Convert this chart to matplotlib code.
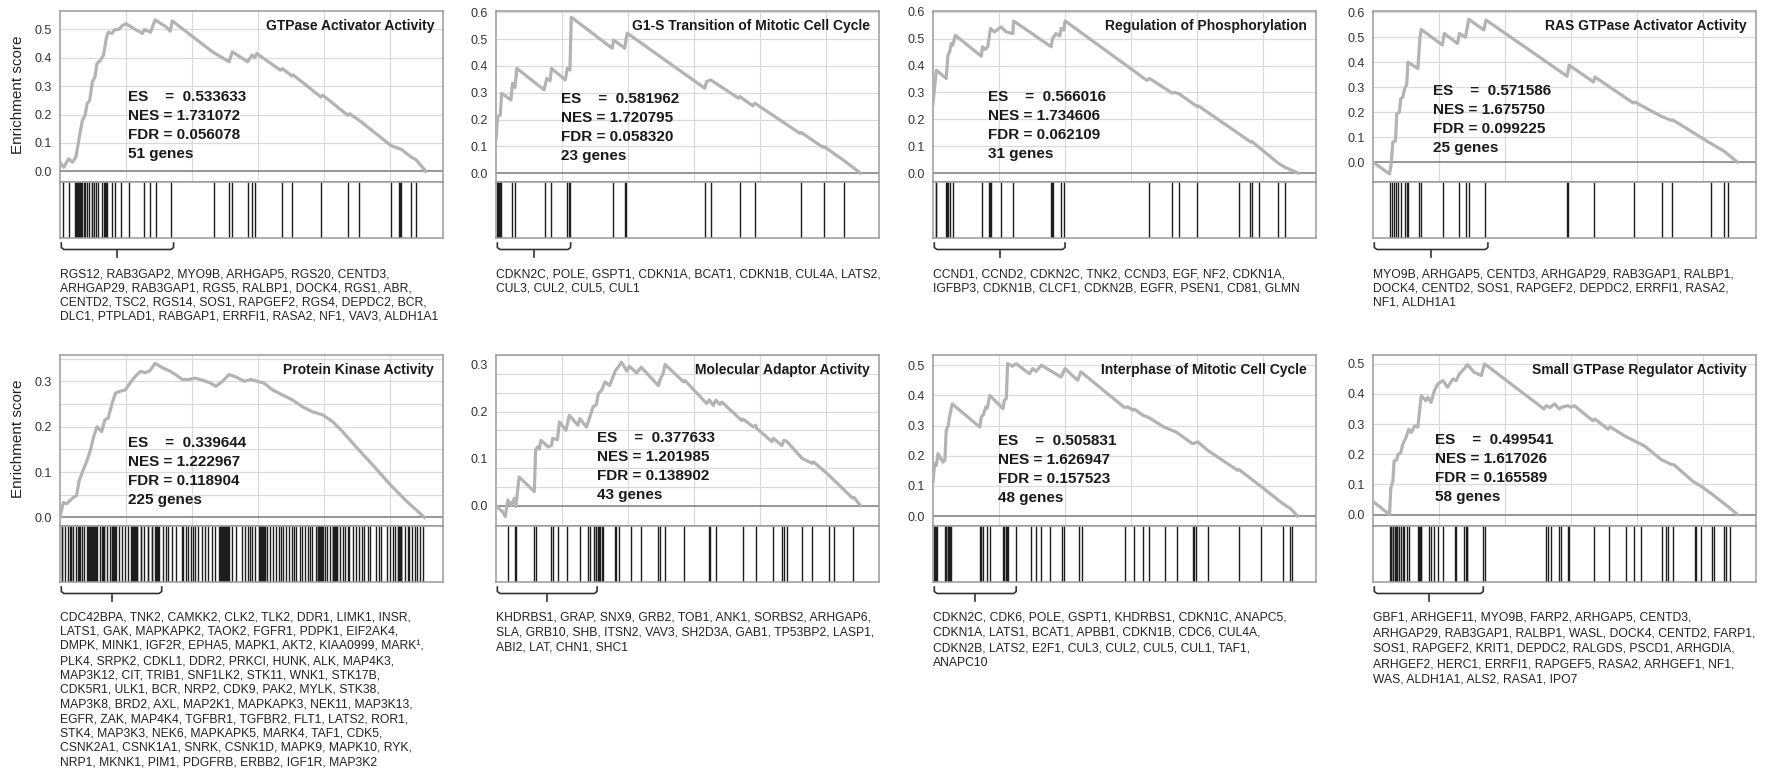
import numpy as np
import matplotlib
matplotlib.use("Agg")
import matplotlib.pyplot as plt
from matplotlib.transforms import blended_transform_factory

plt.rcParams['font.family'] = ['Liberation Sans', 'DejaVu Sans']

# ------------------------------------------------------------------
# Gene-set enrichment results (running enrichment score, hit ranks,
# summary statistics and leading-edge genes) for eight gene sets.
# Rank positions are in units of 2000 genes of the ordered list.
# ------------------------------------------------------------------
titles = [
    "GTPase Activator Activity",
    "G1-S Transition of Mitotic Cell Cycle",
    "Regulation of Phosphorylation",
    "RAS GTPase Activator Activity",
    "Protein Kinase Activity",
    "Molecular Adaptor Activity",
    "Interphase of Mitotic Cell Cycle",
    "Small GTPase Regulator Activity",
]
es_values = [0.533633, 0.581962, 0.566016, 0.571586, 0.339644, 0.377633, 0.505831, 0.499541]
nes_values = [1.731072, 1.720795, 1.734606, 1.675750, 1.222967, 1.201985, 1.626947, 1.617026]
fdr_values = [0.056078, 0.058320, 0.062109, 0.099225, 0.118904, 0.138902, 0.157523, 0.165589]

gtpase_curve = [
    (0.00, 0.032), (0.056, 0.014), (0.13, 0.044), (0.19, 0.032), (0.24, 0.050), (0.27, 0.090),
    (0.31, 0.144), (0.34, 0.180), (0.38, 0.197), (0.41, 0.238), (0.45, 0.250), (0.49, 0.315),
    (0.53, 0.333), (0.56, 0.380), (0.61, 0.390), (0.66, 0.410), (0.70, 0.468), (0.73, 0.490),
    (0.79, 0.486), (0.83, 0.500), (0.89, 0.500), (0.94, 0.513), (1.00, 0.520), (1.14, 0.500),
    (1.25, 0.486), (1.28, 0.500), (1.37, 0.490), (1.44, 0.533633), (1.60, 0.510), (1.67, 0.494),
    (1.70, 0.530), (2.31, 0.421), (2.56, 0.386), (2.61, 0.421), (2.84, 0.386), (2.91, 0.410),
    (2.95, 0.400), (2.98, 0.415), (3.34, 0.356), (3.37, 0.362), (3.51, 0.336), (3.53, 0.340),
    (3.95, 0.262), (3.98, 0.268), (4.36, 0.197), (4.38, 0.203), (4.53, 0.180), (5.01, 0.091),
    (5.17, 0.077), (5.32, 0.050), (5.39, 0.041), (5.54, 0.000),
]
gtpase_hits = [
    0.04, 0.14, 0.23, 0.24, 0.26, 0.27, 0.28, 0.29, 0.31, 0.32, 0.33, 0.36, 0.38, 0.41, 0.44,
    0.48, 0.49, 0.51, 0.55, 0.58, 0.64, 0.66, 0.68, 0.69, 0.70, 0.71, 0.78, 0.84, 0.92, 1.04,
    1.27, 1.37, 1.45, 1.68, 2.33, 2.56, 2.61, 2.84, 2.91, 2.95, 3.36, 3.52, 3.95, 4.36, 4.53,
    5.01, 5.14, 5.15, 5.17, 5.32, 5.39,
]

g1s_curve = [
    (0.00, 0.124), (0.025, 0.211), (0.065, 0.217), (0.085, 0.298), (0.226, 0.273), (0.25, 0.335),
    (0.286, 0.320), (0.316, 0.391), (0.728, 0.311), (0.77, 0.354), (0.82, 0.345), (0.84, 0.391),
    (1.05, 0.348), (1.08, 0.391), (1.12, 0.385), (1.14, 0.581962), (1.76, 0.466), (1.78, 0.497),
    (1.95, 0.466), (1.97, 0.503), (1.99, 0.522), (3.16, 0.317), (3.19, 0.342), (3.25, 0.348),
    (3.67, 0.280), (3.69, 0.286), (3.89, 0.251), (3.92, 0.261), (4.60, 0.149), (4.62, 0.152),
    (4.95, 0.097), (4.97, 0.099), (5.27, 0.047), (5.52, 0.000),
]
g1s_hits = [
    0.01, 0.025, 0.035, 0.05, 0.065, 0.08, 0.24, 0.286, 0.743, 0.83, 1.07, 1.10, 1.12, 1.77,
    1.95, 1.97, 3.17, 3.26, 3.69, 3.92, 4.62, 4.96, 5.27,
]

phos_curve = [
    (0.00, 0.258), (0.05, 0.383), (0.20, 0.352), (0.226, 0.439), (0.25, 0.450), (0.277, 0.482),
    (0.30, 0.475), (0.337, 0.513), (0.73, 0.435), (0.75, 0.470), (0.79, 0.460), (0.83, 0.470),
    (0.87, 0.538), (0.93, 0.525), (1.03, 0.544), (1.11, 0.525), (1.21, 0.519), (1.22, 0.566016),
    (1.79, 0.470), (1.81, 0.500), (1.86, 0.519), (1.92, 0.510), (1.94, 0.538), (1.98, 0.532),
    (2.00, 0.566), (3.24, 0.345), (3.28, 0.352), (3.62, 0.298), (3.65, 0.300), (3.72, 0.296),
    (4.00, 0.248), (4.02, 0.250), (4.63, 0.147), (4.81, 0.116), (4.83, 0.118), (4.93, 0.097),
    (5.23, 0.037), (5.33, 0.022), (5.53, 0.000),
]
phos_hits = [
    0.04, 0.05, 0.20, 0.21, 0.216, 0.23, 0.25, 0.31, 0.74, 0.855, 0.865, 0.87, 0.885, 1.03,
    1.21, 1.79, 1.80, 1.805, 1.82, 1.94, 1.99, 3.27, 3.62, 3.72, 4.00, 4.63, 4.80, 4.83, 4.93,
    5.23, 5.33,
]

ras_curve = [
    (0.00, 0.000), (0.25, -0.047), (0.276, -0.007), (0.30, 0.080), (0.34, 0.085), (0.36, 0.194),
    (0.40, 0.200), (0.42, 0.254), (0.45, 0.260), (0.48, 0.295), (0.51, 0.310), (0.53, 0.400),
    (0.68, 0.375), (0.71, 0.495), (0.73, 0.531), (1.05, 0.469), (1.08, 0.515), (1.28, 0.475),
    (1.31, 0.515), (1.40, 0.500), (1.45, 0.571586), (1.68, 0.529), (1.71, 0.569), (2.94, 0.344),
    (2.97, 0.388), (3.34, 0.321), (3.36, 0.341), (3.94, 0.237), (3.97, 0.240), (4.34, 0.187),
    (4.37, 0.183), (4.52, 0.167), (4.54, 0.169), (5.12, 0.074), (5.31, 0.045), (5.52, 0.000),
]
ras_hits = [
    0.26, 0.29, 0.32, 0.35, 0.38, 0.42, 0.48, 0.51, 0.53, 0.69, 0.72, 1.06, 1.30, 1.41, 1.46,
    1.69, 2.94, 2.96, 3.35, 3.96, 4.37, 4.53, 5.12, 5.31, 5.38,
]

kinase_curve = [
    (0.00, 0.000), (0.05, 0.033), (0.10, 0.030), (0.15, 0.037), (0.20, 0.044), (0.25, 0.048),
    (0.29, 0.081), (0.35, 0.104), (0.41, 0.126), (0.46, 0.148), (0.51, 0.178), (0.56, 0.200),
    (0.63, 0.189), (0.68, 0.215), (0.73, 0.219), (0.79, 0.252), (0.84, 0.274), (0.91, 0.278),
    (0.99, 0.281), (1.06, 0.296), (1.14, 0.311), (1.22, 0.322), (1.29, 0.319), (1.36, 0.323),
    (1.44, 0.339644), (1.55, 0.330), (1.67, 0.322), (1.75, 0.315), (1.85, 0.304), (1.95, 0.304),
    (2.05, 0.307), (2.15, 0.303), (2.28, 0.296), (2.36, 0.289), (2.46, 0.300), (2.56, 0.315),
    (2.66, 0.310), (2.79, 0.300), (2.89, 0.304), (2.99, 0.300), (3.09, 0.296), (3.22, 0.281),
    (3.37, 0.270), (3.52, 0.259), (3.67, 0.244), (3.82, 0.233), (3.98, 0.226), (4.13, 0.211),
    (4.28, 0.189), (4.48, 0.156), (4.74, 0.115), (4.99, 0.074), (5.24, 0.037), (5.52, 0.000),
]
kinase_hits = [
    # leading edge
    0.03, 0.035, 0.08, 0.12, 0.15, 0.16, 0.17, 0.20, 0.24, 0.28, 0.29, 0.30, 0.33, 0.37, 0.41,
    0.43, 0.435, 0.44, 0.445, 0.45, 0.455, 0.46, 0.47, 0.48, 0.49, 0.50, 0.51, 0.52, 0.53, 0.54,
    0.55, 0.56, 0.61, 0.64, 0.65, 0.66, 0.67, 0.71, 0.76,
    0.79, 0.795, 0.80, 0.805, 0.81, 0.815, 0.82, 0.825, 0.83, 0.835, 0.84, 0.85,
    0.90, 0.94, 0.99, 1.03,
    1.08, 1.085, 1.09, 1.095, 1.10, 1.105, 1.11, 1.115, 1.12, 1.13, 1.14, 1.15, 1.16, 1.17,
    1.22, 1.23, 1.27, 1.33, 1.34, 1.39, 1.40, 1.44, 1.45, 1.46, 1.47, 1.48, 1.50,
    # remainder of the list
    1.56, 1.60, 1.64, 1.70, 1.75, 1.84, 1.87, 1.91, 1.94, 1.98, 2.01, 2.05, 2.09, 2.15, 2.20,
    2.24, 2.30, 2.35, 2.41,
    2.43, 2.44, 2.45, 2.46, 2.47, 2.48, 2.49, 2.50, 2.505, 2.51, 2.515, 2.52, 2.53, 2.535, 2.54,
    2.545, 2.55, 2.56,
    2.61, 2.66, 2.76, 2.80, 2.84, 2.87, 2.91, 2.95,
    3.01, 3.02, 3.025, 3.03, 3.04, 3.045, 3.05, 3.06, 3.065, 3.07, 3.08, 3.09, 3.10, 3.11,
    3.14, 3.18, 3.23, 3.27, 3.31, 3.34, 3.37, 3.42, 3.47, 3.51, 3.55, 3.58, 3.63, 3.67, 3.71,
    3.75, 3.78, 3.82, 3.87,
    3.90, 3.905, 3.91, 3.915, 3.92, 3.93, 3.935, 3.94, 3.95, 3.96, 3.97, 3.98,
    4.02, 4.05, 4.09,
    4.13, 4.135, 4.14, 4.145, 4.15, 4.155, 4.16, 4.17, 4.175, 4.18, 4.19, 4.20,
    4.24, 4.28, 4.32, 4.36, 4.38, 4.43, 4.48, 4.53, 4.57, 4.61, 4.66, 4.69, 4.79, 4.83, 4.86,
    4.95, 4.99, 5.04, 5.08,
    5.12, 5.125, 5.13, 5.135, 5.14, 5.145, 5.15, 5.155, 5.16, 5.165, 5.17,
    5.22, 5.27, 5.29, 5.33, 5.37, 5.41, 5.45, 5.49,
]

adaptor_curve = [
    (0.00, 0.000), (0.10, -0.013), (0.14, -0.023), (0.18, 0.012), (0.23, 0.001), (0.28, 0.016),
    (0.30, -0.002), (0.35, 0.061), (0.58, 0.030), (0.60, 0.118), (0.63, 0.125), (0.655, 0.120),
    (0.68, 0.139), (0.79, 0.125), (0.84, 0.128), (0.86, 0.143), (0.93, 0.140), (0.96, 0.178),
    (1.06, 0.160), (1.11, 0.192), (1.24, 0.171), (1.27, 0.185), (1.37, 0.167), (1.42, 0.188),
    (1.47, 0.210), (1.52, 0.215), (1.55, 0.238), (1.60, 0.245), (1.65, 0.263), (1.72, 0.255),
    (1.81, 0.287), (1.86, 0.296), (1.90, 0.305), (1.98, 0.286), (2.02, 0.296), (2.13, 0.282),
    (2.20, 0.294), (2.46, 0.255), (2.49, 0.270), (2.53, 0.280), (2.56, 0.300), (2.84, 0.263),
    (2.86, 0.266), (3.19, 0.217), (3.23, 0.225), (3.29, 0.213), (3.33, 0.224), (3.39, 0.215),
    (3.42, 0.220), (3.72, 0.181), (3.74, 0.184), (3.90, 0.167), (3.93, 0.171), (3.95, 0.164),
    (4.18, 0.136), (4.20, 0.143), (4.33, 0.128), (4.36, 0.139), (4.40, 0.137), (4.64, 0.100),
    (4.79, 0.090), (4.81, 0.093), (5.04, 0.065), (5.40, 0.016), (5.42, 0.018), (5.52, 0.000),
]
adaptor_hits = [
    0.18, 0.29, 0.31, 0.58, 0.61, 0.84, 0.86, 0.94, 1.07, 1.27, 1.39, 1.42, 1.49, 1.51, 1.52,
    1.55, 1.56, 1.57, 1.60, 1.62, 1.80, 1.82, 1.87, 2.05, 2.20, 2.46, 2.48, 2.56, 2.85, 3.22,
    3.24, 3.33, 3.74, 3.93, 4.19, 4.33, 4.36, 4.40, 4.64, 4.79, 5.04, 5.12, 5.41,
]

interphase_curve = [
    (0.00, 0.113), (0.025, 0.174), (0.05, 0.168), (0.076, 0.207), (0.15, 0.179), (0.18, 0.185),
    (0.20, 0.284), (0.23, 0.300), (0.25, 0.329), (0.29, 0.372), (0.71, 0.295), (0.73, 0.329),
    (0.76, 0.335), (0.80, 0.362), (0.82, 0.357), (0.86, 0.400), (1.06, 0.356), (1.08, 0.384),
    (1.11, 0.390), (1.13, 0.505831), (1.20, 0.497), (1.26, 0.505), (1.46, 0.472), (1.51, 0.489),
    (1.56, 0.480), (1.64, 0.500), (1.77, 0.483), (1.94, 0.461), (2.00, 0.489), (2.19, 0.450),
    (2.24, 0.478), (2.90, 0.360), (2.95, 0.362), (3.03, 0.351), (3.05, 0.355), (3.18, 0.334),
    (3.25, 0.329), (3.50, 0.295), (3.68, 0.279), (3.93, 0.240), (4.01, 0.246), (4.16, 0.218),
    (4.61, 0.152), (4.63, 0.155), (4.97, 0.098), (5.30, 0.041), (5.42, 0.024), (5.52, 0.000),
]
interphase_hits = [
    0.01, 0.025, 0.04, 0.06, 0.18, 0.19, 0.20, 0.22, 0.23, 0.24, 0.26, 0.28, 0.71, 0.72, 0.73,
    0.75, 0.82, 0.86, 1.06, 1.08, 1.10, 1.11, 1.12, 1.13, 1.25, 1.49, 1.56, 1.64, 1.77, 1.96,
    1.98, 2.21, 2.26, 2.90, 3.04, 3.18, 3.27, 3.52, 3.69, 3.93, 3.96, 3.98, 4.16, 4.63, 4.97,
    5.30, 5.41, 5.44,
]

small_gtpase_curve = [
    (0.00, 0.044), (0.25, 0.000), (0.27, 0.089), (0.30, 0.110), (0.32, 0.178), (0.36, 0.182),
    (0.38, 0.200), (0.42, 0.205), (0.45, 0.233), (0.50, 0.256), (0.54, 0.283), (0.58, 0.272),
    (0.63, 0.294), (0.68, 0.290), (0.70, 0.333), (0.73, 0.394), (0.80, 0.378), (0.83, 0.389),
    (0.88, 0.372), (0.93, 0.411), (0.98, 0.433), (1.06, 0.444), (1.13, 0.422), (1.21, 0.450),
    (1.26, 0.444), (1.31, 0.467), (1.38, 0.483), (1.43, 0.497), (1.53, 0.472), (1.64, 0.461),
    (1.69, 0.499541), (2.59, 0.350), (2.62, 0.361), (2.68, 0.355), (2.75, 0.367), (2.82, 0.350),
    (2.86, 0.356), (2.95, 0.361), (3.00, 0.356), (3.05, 0.361), (3.33, 0.311), (3.36, 0.317),
    (3.56, 0.283), (3.59, 0.291), (3.81, 0.261), (3.96, 0.244), (4.11, 0.228), (4.36, 0.183),
    (4.51, 0.167), (4.56, 0.165), (4.84, 0.111), (4.97, 0.094), (5.14, 0.067), (5.37, 0.028),
    (5.52, 0.000),
]
small_gtpase_hits = [
    0.26, 0.27, 0.28, 0.30, 0.31, 0.33, 0.35, 0.36, 0.37, 0.40, 0.42, 0.45, 0.47, 0.51, 0.54,
    0.68, 0.69, 0.70, 0.71, 0.72, 0.73, 0.85, 0.88, 0.93, 0.98, 1.06, 1.24, 1.26, 1.38, 1.41,
    1.42, 1.43, 1.66, 1.69, 2.62, 2.65, 2.70, 2.82, 2.85, 2.95, 2.97, 3.35, 3.58, 3.83, 3.96,
    4.06, 4.37, 4.44, 4.46, 4.54, 4.87, 4.89, 4.97, 5.14, 5.17, 5.32, 5.35, 5.40,
]

# end of the leading edge (rank position) for each set
leading_edge_end = [1.72, 1.13, 2.00, 1.74, 1.54, 1.53, 1.26, 1.67]

leading_edge_genes = [
    ["RGS12, RAB3GAP2, MYO9B, ARHGAP5, RGS20, CENTD3,",
     "ARHGAP29, RAB3GAP1, RGS5, RALBP1, DOCK4, RGS1, ABR,",
     "CENTD2, TSC2, RGS14, SOS1, RAPGEF2, RGS4, DEPDC2, BCR,",
     "DLC1, PTPLAD1, RABGAP1, ERRFI1, RASA2, NF1, VAV3, ALDH1A1"],
    ["CDKN2C, POLE, GSPT1, CDKN1A, BCAT1, CDKN1B, CUL4A, LATS2,",
     "CUL3, CUL2, CUL5, CUL1"],
    ["CCND1, CCND2, CDKN2C, TNK2, CCND3, EGF, NF2, CDKN1A,",
     "IGFBP3, CDKN1B, CLCF1, CDKN2B, EGFR, PSEN1, CD81, GLMN"],
    ["MYO9B, ARHGAP5, CENTD3, ARHGAP29, RAB3GAP1, RALBP1,",
     "DOCK4, CENTD2, SOS1, RAPGEF2, DEPDC2, ERRFI1, RASA2,",
     "NF1, ALDH1A1"],
    ["CDC42BPA, TNK2, CAMKK2, CLK2, TLK2, DDR1, LIMK1, INSR,",
     "LATS1, GAK, MAPKAPK2, TAOK2, FGFR1, PDPK1, EIF2AK4,",
     "DMPK, MINK1, IGF2R, EPHA5, MAPK1, AKT2, KIAA0999, MARK\u00b9,",
     "PLK4, SRPK2, CDKL1, DDR2, PRKCI, HUNK, ALK, MAP4K3,",
     "MAP3K12, CIT, TRIB1, SNF1LK2, STK11, WNK1, STK17B,",
     "CDK5R1, ULK1, BCR, NRP2, CDK9, PAK2, MYLK, STK38,",
     "MAP3K8, BRD2, AXL, MAP2K1, MAPKAPK3, NEK11, MAP3K13,",
     "EGFR, ZAK, MAP4K4, TGFBR1, TGFBR2, FLT1, LATS2, ROR1,",
     "STK4, MAP3K3, NEK6, MAPKAPK5, MARK4, TAF1, CDK5,",
     "CSNK2A1, CSNK1A1, SNRK, CSNK1D, MAPK9, MAPK10, RYK,",
     "NRP1, MKNK1, PIM1, PDGFRB, ERBB2, IGF1R, MAP3K2"],
    ["KHDRBS1, GRAP, SNX9, GRB2, TOB1, ANK1, SORBS2, ARHGAP6,",
     "SLA, GRB10, SHB, ITSN2, VAV3, SH2D3A, GAB1, TP53BP2, LASP1,",
     "ABI2, LAT, CHN1, SHC1"],
    ["CDKN2C, CDK6, POLE, GSPT1, KHDRBS1, CDKN1C, ANAPC5,",
     "CDKN1A, LATS1, BCAT1, APBB1, CDKN1B, CDC6, CUL4A,",
     "CDKN2B, LATS2, E2F1, CUL3, CUL2, CUL5, CUL1, TAF1,",
     "ANAPC10"],
    ["GBF1, ARHGEF11, MYO9B, FARP2, ARHGAP5, CENTD3,",
     "ARHGAP29, RAB3GAP1, RALBP1, WASL, DOCK4, CENTD2, FARP1,",
     "SOS1, RAPGEF2, KRIT1, DEPDC2, RALGDS, PSCD1, ARHGDIA,",
     "ARHGEF2, HERC1, ERRFI1, RAPGEF5, RASA2, ARHGEF1, NF1,",
     "WAS, ALDH1A1, ALS2, RASA1, IPO7"],
]

curves = [gtpase_curve, g1s_curve, phos_curve, ras_curve,
          kinase_curve, adaptor_curve, interphase_curve, small_gtpase_curve]
hits = [gtpase_hits, g1s_hits, phos_hits, ras_hits,
        kinase_hits, adaptor_hits, interphase_hits, small_gtpase_hits]

# ------------------------------------------------------------------
# Layout / style
# ------------------------------------------------------------------
W, H = 1771, 773
fig = plt.figure(figsize=(W / 100, H / 100), dpi=100)

X_MAX = 5.8
col_left = [60, 496, 933, 1373]
col_width = 383
row_top = [11, 355]
es_height = 170.5
hit_height = 56.5

y_limits = [(-0.036, 0.565), (-0.031, 0.605), (-0.031, 0.603), (-0.0775, 0.605),
            (-0.0177, 0.358), (-0.042, 0.32), (-0.031, 0.534), (-0.036, 0.529)]
y_tick_max = [0.5, 0.6, 0.6, 0.6, 0.3, 0.3, 0.5, 0.5]
grid_step = [0.1, 0.1, 0.1, 0.1, 0.05, 0.04, 0.1, 0.1]
stats_x = [0.178, 0.171, 0.143, 0.156, 0.178, 0.264, 0.171, 0.161]
stats_top = [86.3, 88.3, 85.7, 79.7, 87.7, 82.7, 86.0, 85.0]
gene_line_gap = [14.2, 14.3, 14.3, 14.2, 14.5, 15.0, 15.3, 15.6]
gene_first_line = [274.3, 617.5]

FRAME = "#9a9a9a"
GRID = "#dadada"
ZERO = "#7a7a7a"
CURVE = "#b3b3b3"
TEXT = "#1a1a1a"


def fy(ypx):
    return 1 - ypx / H


def add_px_axes(left, top, width, height):
    return fig.add_axes([left / W, 1 - (top + height) / H, width / W, height / H])


for i in range(8):
    row, col = divmod(i, 4)
    left = col_left[col]
    top = row_top[row]

    ax = add_px_axes(left, top, col_width, es_height)
    axh = add_px_axes(left, top + es_height, col_width, hit_height)

    # --- running enrichment score panel ---
    ymin, ymax = y_limits[i]
    ax.set_xlim(0, X_MAX)
    ax.set_ylim(ymin, ymax)
    for g in np.arange(1, 6):
        ax.axvline(g, color=GRID, lw=0.9, zorder=0)
    for gy in np.arange(grid_step[i], ymax, grid_step[i]):
        ax.axhline(gy, color=GRID, lw=0.9, zorder=0)
    ax.axhline(0, color=ZERO, lw=1.1, zorder=1)

    cx = [p[0] for p in curves[i]]
    cy = [p[1] for p in curves[i]]
    ax.plot(cx, cy, color=CURVE, lw=2.3, solid_joinstyle="round", zorder=3)

    ticks = np.round(np.arange(0, y_tick_max[i] + 1e-9, 0.1), 1)
    ax.set_yticks(ticks)
    ax.set_yticklabels([f"{t:.1f}" for t in ticks])
    ax.tick_params(axis="y", length=0, pad=6, labelsize=9, labelcolor="#333333")
    ax.set_xticks([])
    for s in ax.spines.values():
        s.set_color(FRAME)
        s.set_linewidth(1.1)

    ax.text(1 - 9 / col_width, 1 - 15 / es_height, titles[i], transform=ax.transAxes,
            ha="right", va="center", fontsize=10, fontweight="bold", color=TEXT)

    stats = [f"ES    =  {es_values[i]:.6f}",
             f"NES = {nes_values[i]:.6f}",
             f"FDR = {fdr_values[i]:.6f}",
             f"{len(hits[i])} genes"]
    for k, line in enumerate(stats):
        ax.text(stats_x[i], 1 - (stats_top[i] + 19 * k) / es_height, line,
                transform=ax.transAxes, ha="left", va="center",
                fontsize=11, fontweight="bold", color=TEXT)

    # --- hit positions ---
    axh.set_xlim(0, X_MAX)
    axh.set_ylim(0, 1)
    axh.vlines(hits[i], 0, 1, color="#1e1e1e", lw=1.0)
    axh.set_xticks([])
    axh.set_yticks([])
    for s in axh.spines.values():
        s.set_color(FRAME)
        s.set_linewidth(1.1)

    # --- leading-edge brace under the hit strip ---
    strip_bottom = top + es_height + hit_height
    tr = blended_transform_factory(axh.transData, fig.transFigure)
    x0, x1 = 0.02, leading_edge_end[i]
    xm = (x0 + x1) / 2
    dx = 0.04
    y_end = fy(strip_bottom + 5)
    y_bar = fy(strip_bottom + 11.5)
    y_tip = fy(strip_bottom + 19)
    axh.plot([x0, x0, x0 + dx, x1 - dx, x1, x1],
             [y_end, fy(strip_bottom + 9.5), y_bar, y_bar, fy(strip_bottom + 9.5), y_end],
             transform=tr, clip_on=False, color="#333333", lw=1.2)
    axh.plot([xm, xm], [y_bar, y_tip], transform=tr, clip_on=False,
             color="#333333", lw=1.2)

    # --- leading-edge gene list ---
    for k, line in enumerate(leading_edge_genes[i]):
        fig.text(left / W, fy(gene_first_line[row] + gene_line_gap[i] * k), line,
                 ha="left", va="center", fontsize=8.7, color="#222222")

# shared y-axis titles
for row in range(2):
    fig.text(18 / W, fy(row_top[row] + 84), "Enrichment score", rotation=90,
             ha="center", va="center", fontsize=11, color="#222222")

fig.savefig("out.png", dpi=100)
